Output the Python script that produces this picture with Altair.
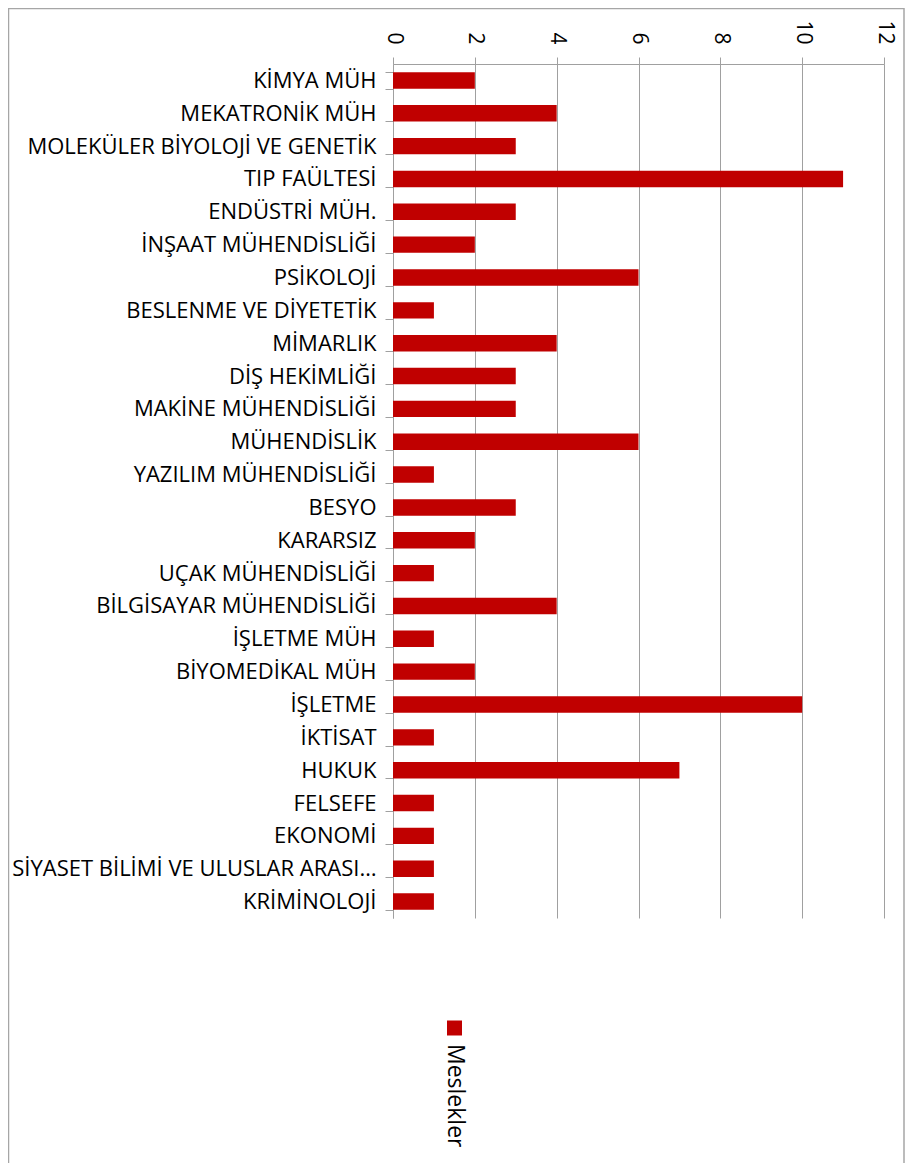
import altair as alt
import pandas as pd

categories = [
    "KİMYA MÜH", "MEKATRONİK MÜH", "MOLEKÜLER BİYOLOJİ VE GENETİK", "TIP FAÜLTESİ",
    "ENDÜSTRİ MÜH.", "İNŞAAT MÜHENDİSLİĞİ", "PSİKOLOJİ", "BESLENME VE DİYETETİK",
    "MİMARLIK", "DİŞ HEKİMLİĞİ", "MAKİNE MÜHENDİSLİĞİ", "MÜHENDİSLİK",
    "YAZILIM MÜHENDİSLİĞİ", "BESYO", "KARARSIZ", "UÇAK MÜHENDİSLİĞİ",
    "BİLGİSAYAR MÜHENDİSLİĞİ", "İŞLETME MÜH", "BİYOMEDİKAL MÜH", "İŞLETME",
    "İKTİSAT", "HUKUK", "FELSEFE", "EKONOMİ", "SİYASET BİLİMİ VE ULUSLAR ARASI…",
    "KRİMİNOLOJİ",
]
values = [2, 4, 3, 11, 3, 2, 6, 1, 4, 3, 3, 6, 1, 3, 2, 1, 4, 1, 2, 10, 1, 7, 1, 1, 1, 1]
tick_values = [0, 2, 4, 6, 8, 10, 12]
series_name = ["Meslekler"]

df = pd.DataFrame({"meslek": categories, "sayi": values})
RED = "#C00000"
GRAY = "#a0a0a0"
FONT = "Open Sans"
W, H = 491, 854

bars = alt.Chart(df).mark_bar(color=RED).encode(
    x=alt.X(
        "sayi:Q",
        scale=alt.Scale(domain=[0, 12]),
        axis=alt.Axis(
            orient="top", values=tick_values, title=None, labelAngle=90,
            labelAlign="right", labelBaseline="middle", labelFontSize=21,
            labelFont=FONT, labelColor="black", labelPadding=13, tickSize=7,
            tickColor=GRAY, domainColor=GRAY, gridColor=GRAY, grid=True,
        ),
    ),
    y=alt.Y(
        "meslek:N",
        sort=categories,
        scale=alt.Scale(paddingInner=0.5, paddingOuter=0.25),
        axis=alt.Axis(
            title=None, tickBand="extent", tickSize=8, tickColor=GRAY,
            domainColor=GRAY, labelFontSize=22, labelFont=FONT, labelColor="black",
            labelPadding=9, labelLimit=500,
        ),
    ),
)

frame = alt.Chart(pd.DataFrame({"f": [0]})).mark_rect(
    fill="transparent", stroke="#a6a6a6", strokeWidth=1.5
).encode(
    x=alt.value(-384.5), x2=alt.value(511), y=alt.value(-55.5), y2=alt.value(1300)
)

leg_df = pd.DataFrame({"name": series_name})
leg_sq = alt.Chart(leg_df).mark_square(color=RED, size=225, opacity=1).encode(
    x=alt.value(61.5), y=alt.value(964)
)
leg_txt = alt.Chart(leg_df).mark_text(
    angle=90, align="left", baseline="middle", fontSize=23, font=FONT, color="black"
).encode(x=alt.value(62), y=alt.value(980), text="name:N")

chart = alt.layer(frame, bars, leg_sq, leg_txt).properties(
    width=W, height=H,
    padding={"left": 385, "top": 56, "right": 21, "bottom": 245},
    autosize=alt.AutoSizeParams(type="none"),
).configure_view(stroke=None)

chart.save("out.html", embed_options={"renderer": "svg", "actions": False})
